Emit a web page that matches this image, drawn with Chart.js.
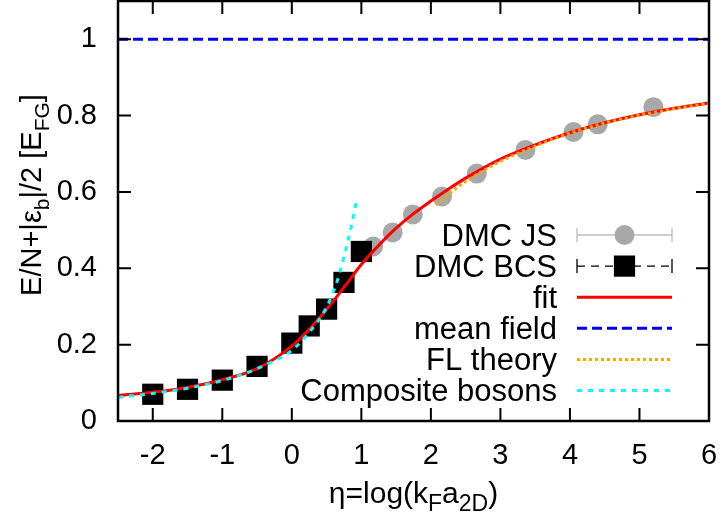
<!DOCTYPE html>
<html>
<head>
<meta charset="utf-8">
<script src="https://cdn.jsdelivr.net/npm/chart.js@4.4.1/dist/chart.umd.min.js"></script>
<style>
  html, body { margin: 0; padding: 0; background: #fff; }
  #wrap { width: 722px; height: 522px; }
</style>
</head>
<body>
<div id="wrap"><canvas id="energyChart" width="722" height="522"></canvas></div>
<script>
// tick labels
const xTicks = [-2, -1, 0, 1, 2, 3, 4, 5, 6];
const yTicks = [0, 0.2, 0.4, 0.6, 0.8, 1];

// DMC JS (grey circles)
const jsEta = [1.17, 1.45, 1.74, 2.16, 2.66, 3.36, 4.05, 4.40, 5.20];
const jsEnergy = [0.457, 0.494, 0.541, 0.588, 0.648, 0.710, 0.757, 0.777, 0.822];

// DMC BCS (black squares)
const bcsEta = [-2, -1.5, -1, -0.5, 0, 0.25, 0.5, 0.75, 1];
const bcsEnergy = [0.070, 0.083, 0.107, 0.143, 0.204, 0.249, 0.293, 0.363, 0.444];

// fit curve
const fitEta = [-2.5, -2, -1.5, -1, -0.5, 0, 0.25, 0.5, 0.75, 1, 1.25, 1.5, 1.75, 2, 2.25, 2.5, 3, 3.5, 4, 4.5, 5, 5.5, 6];
const fitEnergy = [0.067, 0.075, 0.088, 0.108, 0.137, 0.196, 0.240, 0.292, 0.350, 0.410, 0.460, 0.505, 0.543, 0.576, 0.607, 0.636, 0.686, 0.723, 0.755, 0.781, 0.802, 0.819, 0.833];

// mean field
const meanEta = [-2.5, 6];
const meanEnergy = [1, 1];

// FL theory
const flEta = [2.07, 2.3, 2.5, 2.75, 3, 3.5, 4, 4.5, 5, 5.5, 6];
const flEnergy = [0.566, 0.601, 0.627, 0.655, 0.680, 0.720, 0.754, 0.780, 0.801, 0.818, 0.832];

// composite bosons
const cbEta = [-2.5, -2, -1.5, -1, -0.5, 0, 0.25, 0.5, 0.65, 0.75, 0.85, 0.93];
const cbEnergy = [0.062, 0.072, 0.086, 0.106, 0.137, 0.185, 0.232, 0.298, 0.365, 0.430, 0.505, 0.577];

const xTitle = [['η=log(k', false], ['F', true], ['a', false], ['2D', true], [')', false]];
const yTitle = [['E/N+|ε', false], ['b', true], ['|/2 [E', false], ['FG', true], [']', false]];

const FONT = '"Liberation Sans", Arial, Helvetica, sans-serif';

function toPoints(xs, ys) {
  return xs.map((x, i) => ({x: x, y: ys[i]}));
}

// draws text with subscript parts, centred on cx
function drawRich(ctx, parts, cx, baseY, size, subSize) {
  let total = 0;
  parts.forEach(p => {
    ctx.font = (p[1] ? subSize : size) + 'px ' + FONT;
    total += ctx.measureText(p[0]).width;
  });
  let x = cx - total / 2;
  ctx.textAlign = 'left';
  ctx.textBaseline = 'alphabetic';
  parts.forEach(p => {
    ctx.font = (p[1] ? subSize : size) + 'px ' + FONT;
    ctx.fillText(p[0], x, p[1] ? baseY + 8 : baseY);
    x += ctx.measureText(p[0]).width;
  });
}

const framePlugin = {
  id: 'frame',
  afterDatasetsDraw(chart) {
    const ctx = chart.ctx;
    const a = chart.chartArea;
    const xs = chart.scales.x, ys = chart.scales.y;
    const tl = 13;
    ctx.save();
    ctx.strokeStyle = '#000';
    ctx.lineWidth = 2;
    ctx.beginPath();
    xTicks.forEach(v => {
      const px = xs.getPixelForValue(v);
      ctx.moveTo(px, a.bottom); ctx.lineTo(px, a.bottom - tl);
      ctx.moveTo(px, a.top); ctx.lineTo(px, a.top + tl);
    });
    yTicks.forEach(v => {
      const py = ys.getPixelForValue(v);
      ctx.moveTo(a.left, py); ctx.lineTo(a.left + tl, py);
      ctx.moveTo(a.right, py); ctx.lineTo(a.right - tl, py);
    });
    ctx.stroke();
    ctx.lineWidth = 2.5;
    ctx.strokeRect(a.left, a.top, a.right - a.left, a.bottom - a.top);
    ctx.restore();
  },
  afterDraw(chart) {
    const ctx = chart.ctx;
    const a = chart.chartArea;
    ctx.save();
    ctx.fillStyle = '#000';
    // axis titles
    drawRich(ctx, xTitle, (a.left + a.right) / 2, 503, 30, 23);
    ctx.save();
    ctx.translate(41, 195);
    ctx.rotate(-Math.PI / 2);
    drawRich(ctx, yTitle, 0, 0, 29, 21);
    ctx.restore();

    // key
    const x1 = a.right - 132, x2 = a.right - 37, xm = (x1 + x2) / 2;
    const textRight = x1 - 20;
    chart.data.datasets.forEach((ds, i) => {
      const y = a.bottom - 186 + i * 31.1;
      ctx.font = '31px ' + FONT;
      ctx.textAlign = 'right';
      ctx.textBaseline = 'middle';
      ctx.fillStyle = '#000';
      ctx.fillText(ds.label, textRight, y + 2);
      ctx.save();
      if (ds.keyBar) {
        ctx.strokeStyle = ds.keyBar;
        ctx.lineWidth = 1.3;
        ctx.setLineDash(ds.keyDash);
        ctx.beginPath();
        ctx.moveTo(x1, y); ctx.lineTo(x2, y);
        ctx.stroke();
        ctx.setLineDash([]);
        ctx.beginPath();
        ctx.moveTo(x1, y - 7); ctx.lineTo(x1, y + 7);
        ctx.moveTo(x2, y - 7); ctx.lineTo(x2, y + 7);
        ctx.stroke();
        ctx.fillStyle = ds.pointBackgroundColor;
        if (ds.pointStyle === 'rect') {
          const h = ds.pointRadius * Math.SQRT1_2;
          ctx.fillRect(xm - h, y - h, 2 * h, 2 * h);
        } else {
          ctx.beginPath();
          ctx.arc(xm, y, ds.pointRadius, 0, Math.PI * 2);
          ctx.fill();
        }
      } else {
        ctx.strokeStyle = ds.borderColor;
        ctx.lineWidth = ds.borderWidth;
        ctx.setLineDash(ds.borderDash || []);
        ctx.beginPath();
        ctx.moveTo(x1, y); ctx.lineTo(x2, y);
        ctx.stroke();
      }
      ctx.restore();
    });
    ctx.restore();
  }
};

const ctx = document.getElementById('energyChart').getContext('2d');
const chart = new Chart(ctx, {
  type: 'scatter',
  data: {
    datasets: [
      {
        label: 'DMC JS',
        data: toPoints(jsEta, jsEnergy),
        pointStyle: 'circle',
        pointRadius: 10,
        pointBackgroundColor: '#a8a8a8',
        pointBorderWidth: 0,
        borderColor: '#a8a8a8',
        showLine: false,
        keyBar: '#bdbdbd',
        keyDash: [],
        order: 6
      },
      {
        label: 'DMC BCS',
        data: toPoints(bcsEta, bcsEnergy),
        pointStyle: 'rect',
        pointRadius: 15,
        pointBackgroundColor: '#000',
        pointBorderWidth: 0,
        borderColor: '#000',
        showLine: false,
        keyBar: '#000',
        keyDash: [8, 6],
        order: 5
      },
      {
        label: 'fit',
        data: toPoints(fitEta, fitEnergy),
        showLine: true,
        borderColor: '#ff0000',
        borderWidth: 3,
        pointRadius: 0,
        cubicInterpolationMode: 'monotone',
        order: 2
      },
      {
        label: 'mean field',
        data: toPoints(meanEta, meanEnergy),
        showLine: true,
        borderColor: '#0000ff',
        borderWidth: 3,
        borderDash: [10, 5],
        pointRadius: 0,
        order: 3
      },
      {
        label: 'FL theory',
        data: toPoints(flEta, flEnergy),
        showLine: true,
        borderColor: '#ffa500',
        borderWidth: 3,
        borderDash: [3, 3],
        pointRadius: 0,
        cubicInterpolationMode: 'monotone',
        order: 1
      },
      {
        label: 'Composite bosons',
        data: toPoints(cbEta, cbEnergy),
        showLine: true,
        borderColor: '#00ffff',
        borderWidth: 3,
        borderDash: [5, 6],
        pointRadius: 0,
        cubicInterpolationMode: 'monotone',
        order: 0
      }
    ]
  },
  options: {
    responsive: false,
    animation: false,
    devicePixelRatio: 1,
    layout: { autoPadding: false, padding: { top: 1, right: 13, left: 0, bottom: 0 } },
    plugins: {
      legend: { display: false },
      tooltip: { enabled: false }
    },
    scales: {
      x: {
        type: 'linear',
        min: -2.5,
        max: 6,
        afterBuildTicks: s => { s.ticks = xTicks.map(v => ({value: v})); },
        afterFit: s => {
          s.height = 101;
          s.paddingLeft = 0; s.paddingRight = 0;
          s.paddingTop = 0; s.paddingBottom = 0;
        },
        grid: { display: false, drawTicks: false },
        border: { display: false },
        ticks: {
          color: '#000',
          font: { family: FONT, size: 29 },
          padding: 18,
          maxRotation: 0,
          autoSkip: false,
          callback: v => String(v)
        }
      },
      y: {
        type: 'linear',
        min: 0,
        max: 1.1,
        afterBuildTicks: s => { s.ticks = yTicks.map(v => ({value: v})); },
        afterFit: s => {
          s.width = 118;
          s.paddingLeft = 0; s.paddingRight = 0;
          s.paddingTop = 0; s.paddingBottom = 0;
        },
        grid: { display: false, drawTicks: false },
        border: { display: false },
        ticks: {
          color: '#000',
          font: { family: FONT, size: 29 },
          padding: 21,
          autoSkip: false,
          callback: v => String(v)
        }
      }
    }
  },
  plugins: [framePlugin]
});
</script>
</body>
</html>
